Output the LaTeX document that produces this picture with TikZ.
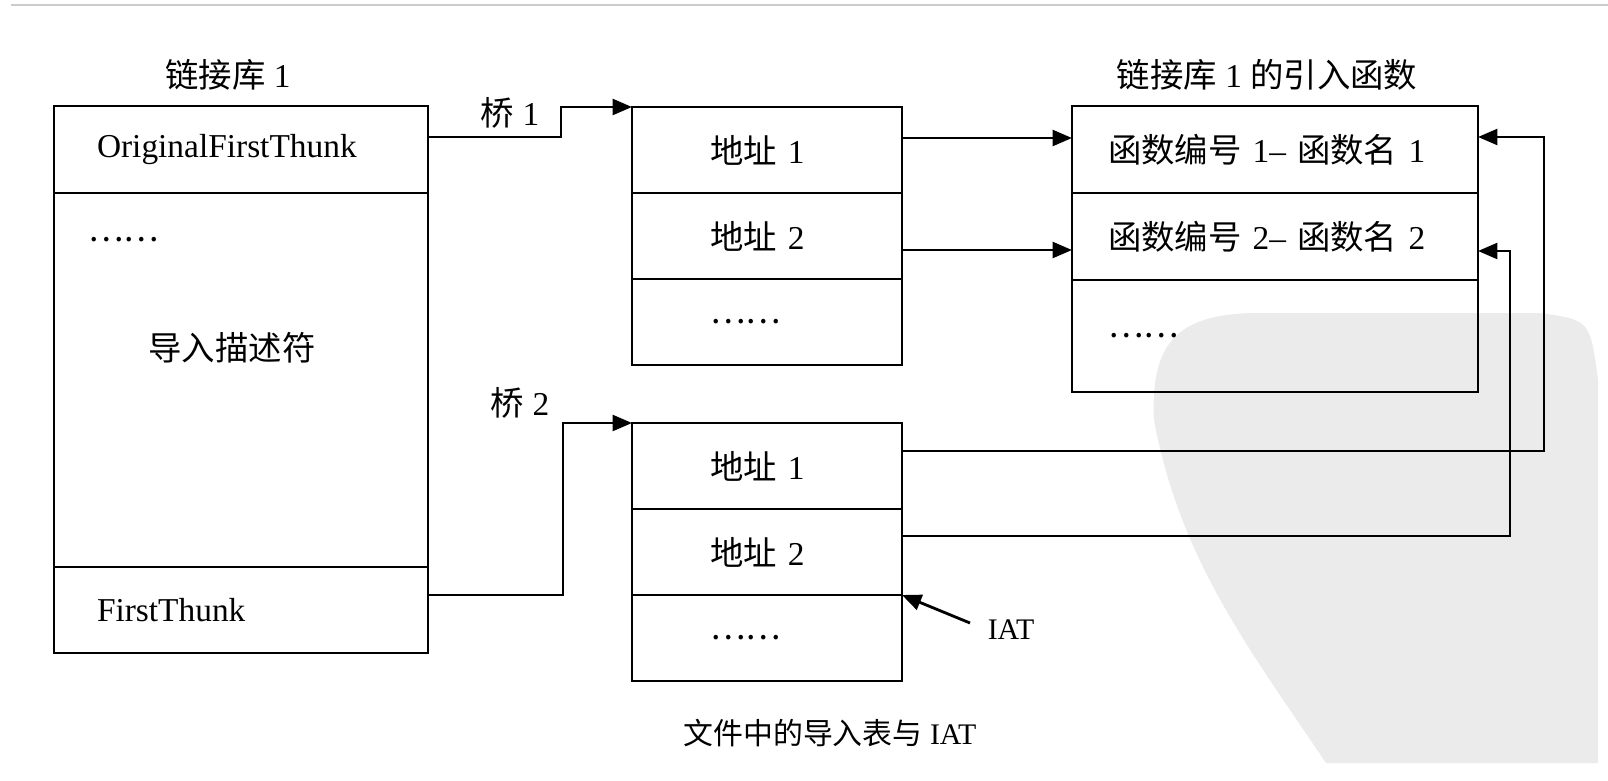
\documentclass[tikz,border=0pt]{standalone}
\usepackage{fontspec}
\setmainfont{Liberation Serif}
\newfontfamily\zhfont{Noto Sans CJK SC}
\newcommand{\zh}[1]{{\zhfont #1}}
\usetikzlibrary{arrows.meta, positioning}

\begin{document}
\begin{tikzpicture}[
			every node/.style={inner sep=0pt, outer sep=0pt, font=\fontsize{19}{22}\selectfont},
			cell/.style={draw, line width=1.6pt, rectangle, align=left, inner ysep=0pt},
			libcell/.style={cell, inner xsep=0.86cm, text width=5.76cm},
			addrcell/.style={cell, inner xsep=1.56cm, text width=2.28cm, minimum height=1.72cm},
			funccell/.style={cell, inner xsep=0.72cm, text width=6.68cm},
			small/.style={font=\fontsize{17}{20}\selectfont},
			arrow/.style={-{Triangle[length=11pt, width=9pt]}, line width=1.6pt}
			]
			\useasboundingbox (0,0) rectangle (32.16,-15.62);
			
			% Background
			\fill [black!8] (23.08,-8.4) .. controls (23,-6.8) and (23.6,-6.26) .. (25.2,-6.26)
				-- (30.8,-6.26) .. controls (31.8,-6.4) .. (31.96,-7.6) -- (31.96,-15.26)
				-- (26.52,-15.26) .. controls (25,-13) and (23.6,-11.2) .. (23.08,-8.4);
			\draw [gray!40, line width=1.2pt] (0.22,-0.1) -- (32.16,-0.1);
			
			% Nodes
			\node (oft) [libcell, minimum height=1.74cm, anchor=north west] at (1.08,-2.12) {OriginalFirstThunk};
			\node (desc) [libcell, minimum height=7.48cm, below=0pt of oft] {};
			\node (ft) [libcell, minimum height=1.72cm, below=0pt of desc] {FirstThunk};
			\node (desc_dots) [anchor=west] at (1.76,-4.8) {\zh{……}};
			\node (desc_label) at (4.64,-6.96) {\zh{导入描述符}};
			\node (lib_title) [above=0.32cm of oft.north, xshift=-0.26cm] {\zh{链接库} 1};
			
			\node (a1_1) [addrcell, anchor=north west] at (12.64,-2.14) {\zh{地址} 1};
			\node (a1_2) [addrcell, below=0pt of a1_1] {\zh{地址} 2};
			\node (a1_3) [addrcell, below=0pt of a1_2] {\zh{……}};
			\node (a2_1) [addrcell, anchor=north west] at (12.64,-8.46) {\zh{地址} 1};
			\node (a2_2) [addrcell, below=0pt of a2_1] {\zh{地址} 2};
			\node (a2_3) [addrcell, below=0pt of a2_2] {\zh{……}};
			
			\node (f1) [funccell, minimum height=1.74cm, anchor=north west] at (21.44,-2.12) {\zh{函数编号} 1– \zh{函数名} 1};
			\node (f2) [funccell, minimum height=1.74cm, below=0pt of f1] {\zh{函数编号} 2– \zh{函数名} 2};
			\node (f3) [funccell, minimum height=2.24cm, below=0pt of f2] {\zh{……}};
			\node (func_title) [above=0.32cm of f1.north, xshift=-0.16cm] {\zh{链接库} 1 \zh{的引入函数}};
			
			\node (bridge1) at (10.2,-2.26) {\zh{桥} 1};
			\node (bridge2) at (10.4,-8.06) {\zh{桥} 2};
			\node (iat) [small] at (20.22,-12.6) {IAT};
			\coordinate (iat_tail) at (19.4,-12.46);
			\node (caption) [small] at (16.6,-14.66) {\zh{文件中的导入表与} IAT};
			
			% Connections
			\draw [arrow] ([yshift=0.25cm]oft.east) -- ++(2.66,0) |- (a1_1.north west);
			\draw [arrow] ([yshift=0.3cm]ft.east) -- ++(2.7,0) |- (a2_1.north west);
			\draw [arrow] ([yshift=0.24cm]a1_1.east) -- ([yshift=0.24cm]a1_1.east -| f1.west);
			\draw [arrow] ([yshift=-0.28cm]a1_2.east) -- ([yshift=-0.28cm]a1_2.east -| f2.west);
			\draw [arrow] ([yshift=0.3cm]a2_1.east) -- ++(12.84,0) |- ([yshift=0.25cm]f1.east);
			\draw [arrow] ([yshift=0.32cm]a2_2.east) -- ++(12.16,0) |- ([yshift=-0.29cm]f2.east);
			\draw [arrow] (iat_tail) -- (a2_2.south east);
			
		\end{tikzpicture}
\end{document}
